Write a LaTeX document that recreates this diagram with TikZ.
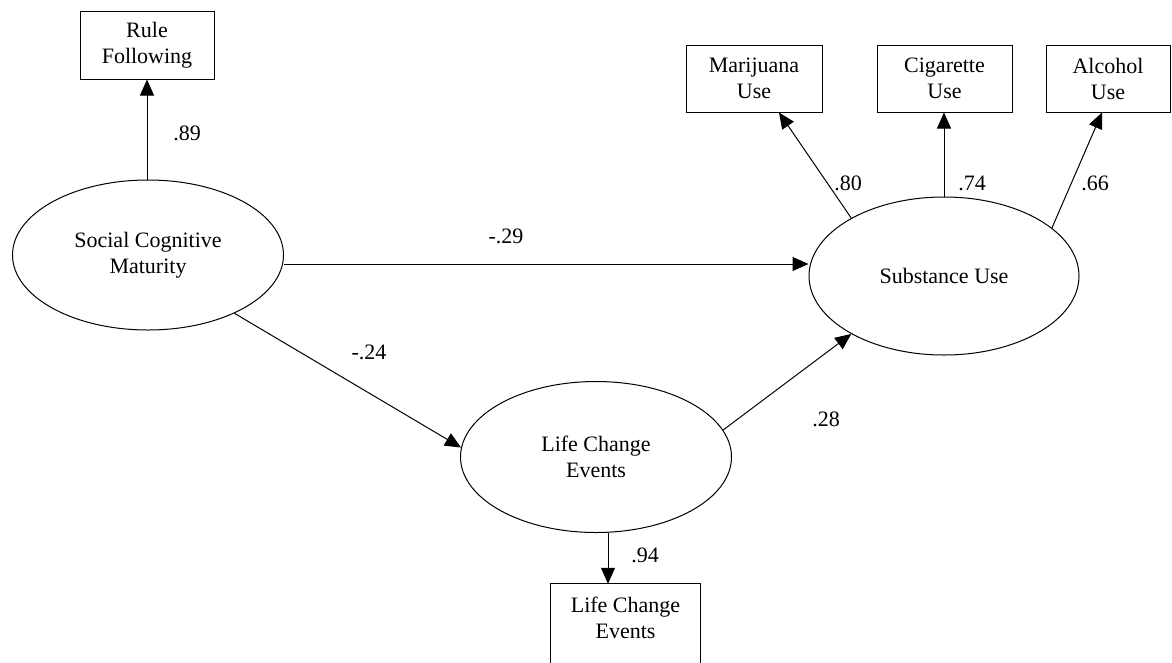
\documentclass[tikz,border=0pt]{standalone}
\usepackage{fontspec}
\setmainfont{Liberation Serif}
\usetikzlibrary{shapes.geometric,arrows.meta}
\tikzset{
  every node/.style={font=\fontsize{22}{26}\selectfont},
  obsbox/.style={draw, rectangle, line width=1pt, align=center, inner sep=0pt},
  latent/.style={draw, ellipse, line width=1pt, align=center, inner sep=0pt},
  arr/.style={line width=1pt, -{Triangle[length=16pt,width=14pt]}},
  lbl/.style={inner sep=0pt, align=center}
}
\begin{document}
\begin{tikzpicture}[x=1pt,y=1pt]
\useasboundingbox[fill=white] (0,0) rectangle (1172,-662);
% observed boxes
\node[obsbox, minimum width=134, minimum height=68] (rule) at (147,-45) {Rule\\Following};
\node[obsbox, minimum width=136, minimum height=67] (mar) at (754,-78.5) {Marijuana\\Use};
\node[obsbox, minimum width=135, minimum height=67] (cig) at (944.5,-78.5) {Cigarette\\Use};
\node[obsbox, minimum width=124, minimum height=67] (alc) at (1108,-78.5) {Alcohol\\Use};
\node[lbl, minimum width=149, minimum height=67] (lcebox) at (625.5,-617.5) {Life Change\\Events};
\draw[line width=1pt] ([yshift=-40pt]lcebox.south west) -- (lcebox.north west) -- (lcebox.north east) -- ([yshift=-40pt]lcebox.south east);
% latent ellipses
\node[latent, minimum width=271, minimum height=150] (scm) at (148,-255) {Social Cognitive\\Maturity};
\node[latent, minimum width=270, minimum height=158] (su) at (944,-276) {Substance Use};
\node[latent, minimum width=271, minimum height=151] (lce) at (596,-457) {Life Change\\Events};
% paths
\draw[arr] ([xshift=-1pt]scm.north) -- ([xshift=-1pt]scm.north |- rule.south);
\node[lbl] (l89) at (187,-133) {.89};
\draw[arr] ([yshift=-9pt]scm.east) -- ([yshift=12pt]su.west);
\node[lbl] (l29) at (506,-236) {-.29};
\draw[arr] (scm.-34) -- (lce.176);
\node[lbl] (l24) at (369,-352) {-.24};
\draw[arr] (lce.12) -- (su.212);
\node[lbl] (l28) at (826,-419) {.28};
\draw[arr] ([xshift=12pt]lce.south) -- ([xshift=12pt]lce.south |- lcebox.north);
\node[lbl] (l94) at (645,-555) {.94};
\draw[arr] (su.148) -- ([xshift=25pt]mar.south);
\node[lbl] (l80) at (848,-183) {.80};
\draw[arr] (su.north) -- (su.north |- cig.south);
\node[lbl] (l74) at (972,-183) {.74};
\draw[arr] (su.24) -- ([xshift=-6pt]alc.south);
\node[lbl] (l66) at (1095,-183) {.66};
\end{tikzpicture}
\end{document}
